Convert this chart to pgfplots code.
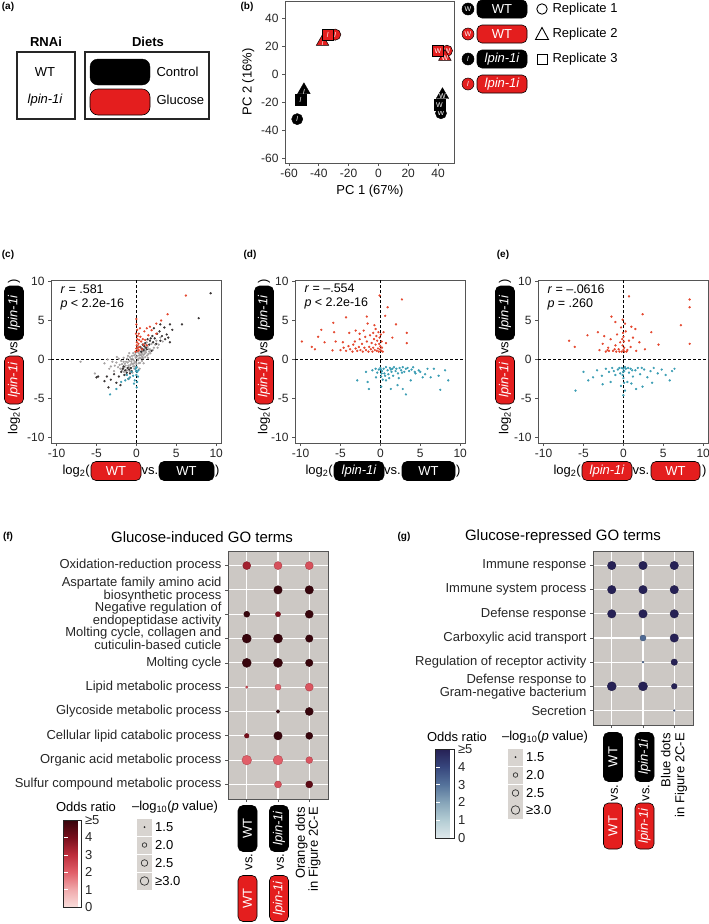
\documentclass[border=0pt]{standalone}
\usepackage{fontspec}
\setmainfont{Liberation Sans}
\usepackage{pgfplots}
\pgfplotsset{compat=1.18}
\usetikzlibrary{shapes.geometric}

\definecolor{pillred}{HTML}{E41E1E}
\definecolor{ptred}{HTML}{E4472E}
\definecolor{ptblue}{HTML}{3B9DB3}
\definecolor{ptgray}{HTML}{A09C9C}
\definecolor{ptdark}{HTML}{3A3535}
\definecolor{panelbg}{HTML}{CCC8C4}
\definecolor{frame}{HTML}{555555}
\definecolor{legsq}{HTML}{D8D4D0}

\newcommand{\fs}[1]{\fontsize{#1}{#1}\selectfont}

\pgfplotsset{
  colormap={goblues}{rgb255=(222,232,235) rgb255=(180,205,212) rgb255=(135,165,185) rgb255=(85,115,155) rgb255=(55,70,125) rgb255=(38,33,85)},
  colormap={goreds}{rgb255=(250,222,220) rgb255=(240,170,172) rgb255=(225,95,105) rgb255=(190,45,60) rgb255=(120,15,28) rgb255=(55,5,12)},
  /pgf/number format/assume math mode=true,
  gg/.style={scale only axis, tick align=outside, major tick length=3pt, xtick pos=bottom, ytick pos=left,
    axis line style={draw=frame, line width=1pt}, tick style={draw=frame, line width=0.7pt},
    tick label style={font=\fs{12}, text=black!85}, label style={font=\fs{13}}, clip=false},
  sc/.style={gg, width=170pt, height=163pt, xmin=-10.7, xmax=10.6, ymin=-10.74, ymax=10.2,
    xtick={-10,-5,0,5,10}, ytick={-10,-5,0,5,10}},
  go/.style={gg, width=100pt, xmin=0.4, xmax=3.6, xtick={1,2,3}, xticklabels={}, y dir=reverse,
    axis background/.style={fill=panelbg}, grid=major, major grid style={draw=white, line width=1.1pt},
    yticklabel style={align=right, font=\fontsize{13}{11.5}\selectfont, text=black!85},
    point meta min=0, point meta max=5},
  dots/.style={scatter, only marks, mark=*, point meta=explicit,
    visualization depends on={\thisrow{s}\as\msize},
    scatter/@pre marker code/.append style={/tikz/mark size=\msize}},
  cb/.style={scale only axis, width=10pt, height=10pt, hide axis, point meta min=0, point meta max=5, colorbar,
    colorbar style={at={(parent axis.south west)}, anchor=south west, ytick={0,1,2,3,4,5},
      yticklabels={0,1,2,3,4,≥5}, ytick style={draw=white, line width=0.6pt}, major tick length=4pt,
      tick align=inside, yticklabel pos=right, axis line style={draw=black!85, line width=0.9pt},
      yticklabel style={font=\fs{13}, text=black!85}}},
  pcapt/.style={only marks, mark size=5.6pt, nodes near coords align={center},
    every node near coord/.style={text=white, font=\fs{7}}},
  pcatri/.style={pcapt, mark=triangle*, mark size=7.2pt,
    every node near coord/.style={text=white, font=\fs{7}, yshift=-1.5pt}},
  rp/.style={only marks, mark=*, mark size=0.95pt, ptred},
  bp/.style={only marks, mark=*, mark size=0.95pt, ptblue},
  zl/.style={black, line width=0.6pt, dash pattern=on 3pt off 2pt},
}

\tikzset{
  pill/.style={draw=black, line width=0.6pt, rounded corners=5pt, text=white, inner sep=0pt, font=\fs{13}},
  vpill/.style={pill, rotate=90, minimum width=46pt, minimum height=19pt},
}

\begin{document}
\begin{tikzpicture}
\useasboundingbox (0pt,0pt) rectangle (709pt,-924pt);

% ---------------- panel a
\node[font=\bfseries\fs{10}] at (8pt,-7pt) {(a)};
\node[font=\bfseries\fs{13}] at (46pt,-42pt) {RNAi};
\draw[line width=1.2pt, draw=black!85] (17pt,-52pt) rectangle (75pt,-119pt);
\node[font=\fs{13}] at (45pt,-72pt) {WT};
\node[font=\itshape\fs{13}] at (45pt,-100pt) {lpin-1i};
\node[font=\bfseries\fs{13}] at (148pt,-42pt) {Diets};
\draw[line width=1.2pt, draw=black!85] (85pt,-52pt) rectangle (209pt,-119pt);
\draw[fill=black, draw=black, rounded corners=8pt] (90pt,-59pt) rectangle (150pt,-85pt);
\draw[fill=pillred, draw=black, line width=0.6pt, rounded corners=8pt] (90pt,-89pt) rectangle (150pt,-115pt);
\node[anchor=west, font=\fs{13}] at (153pt,-72pt) {Control};
\node[anchor=west, font=\fs{13}] at (153pt,-100pt) {Glucose};

% ---------------- panel b
\node[font=\bfseries\fs{10}] at (247pt,-7pt) {(b)};
\begin{axis}[gg, at={(285pt,-1pt)}, anchor=north west, width=170pt, height=162pt,
  xmin=-62.7, xmax=51.4, ymin=-63.3, ymax=52.3,
  xtick={-60,-40,-20,0,20,40}, ytick={-60,-40,-20,0,20,40},
  xlabel={PC 1 (67\%)}, ylabel={PC 2 (16\%)}]
\addplot[pcapt, mark=*, mark options={fill=black, draw=black}, nodes near coords={W}] coordinates {(42,-27.8)};
\addplot[pcapt, mark=square*, mark options={fill=black, draw=black}, nodes near coords={W}] coordinates {(41,-21.8)};
\addplot[pcatri, mark options={fill=black, draw=black}, nodes near coords={W}] coordinates {(43,-14.7)};
\addplot[pcapt, mark=*, mark options={fill=pillred, draw=black, line width=0.5pt}, nodes near coords={W}] coordinates {(46,16.8)};
\addplot[pcatri, mark options={fill=pillred, draw=black, line width=0.5pt}, nodes near coords={W}] coordinates {(44.6,12.5)};
\addplot[pcapt, mark=square*, mark options={fill=pillred, draw=black, line width=0.5pt}, nodes near coords={W}] coordinates {(40,16.8)};
\addplot[pcapt, mark=*, mark options={fill=black, draw=black}, nodes near coords={\itshape l}] coordinates {(-54.5,-32)};
\addplot[pcapt, mark=square*, mark options={fill=black, draw=black}, nodes near coords={\itshape l}] coordinates {(-52.3,-18.3)};
\addplot[pcatri, mark options={fill=black, draw=black}, nodes near coords={\itshape l}] coordinates {(-50,-11.2)};
\addplot[pcatri, mark options={fill=pillred, draw=black, line width=0.5pt}, nodes near coords={\itshape l}] coordinates {(-37.5,23.2)};
\addplot[pcapt, mark=*, mark options={fill=pillred, draw=black, line width=0.5pt}, nodes near coords={\itshape l}] coordinates {(-29,28.3)};
\addplot[pcapt, mark=square*, mark options={fill=pillred, draw=black, line width=0.5pt}, nodes near coords={\itshape l}] coordinates {(-34,28)};
\end{axis}
\foreach \yy/\fc/\lt/\pt in {9/black/W/WT, 34/pillred/W/WT, 59/black/\itshape l/\itshape lpin-1i, 84/pillred/\itshape l/\itshape lpin-1i}{
  \node[circle, fill=\fc, draw=black, line width=0.5pt, minimum size=12pt, inner sep=0pt, text=white, font=\fs{7}] at (468pt,-\yy pt) {\lt};
  \node[pill, fill=\fc, minimum width=50pt, minimum height=18pt] at (502pt,-\yy pt) {\pt};
}
\draw[line width=0.9pt] (542pt,-9pt) circle (5.2pt);
\draw[line width=0.9pt] (535.5pt,-39.5pt) -- (548.5pt,-39.5pt) -- (542pt,-27.5pt) -- cycle;
\draw[line width=0.9pt] (537pt,-54pt) rectangle (547pt,-64pt);
\node[anchor=west, font=\fs{13}] at (549pt,-9pt) {Replicate 1};
\node[anchor=west, font=\fs{13}] at (549pt,-34pt) {Replicate 2};
\node[anchor=west, font=\fs{13}] at (549pt,-59pt) {Replicate 3};

% ---------------- panel c
\node[font=\bfseries\fs{10}] at (8pt,-255pt) {(c)};
\begin{axis}[sc, at={(51pt,-280pt)}, anchor=north west]
\addplot[only marks, mark=*, mark size=0.95pt, ptgray, opacity=0.85] coordinates {
(-2.0,-1.2) (-1.8,-0.6) (-1.5,-1.0) (-1.3,-0.3) (-1.2,-1.4) (-1.0,-0.8) (-0.9,-0.2) (-0.8,0.3)
(-0.7,-1.1) (-0.6,-0.5) (-0.5,0.1) (-0.4,-0.9) (-0.3,0.5) (-0.2,-0.3) (-0.1,0.2) (0.0,-0.6)
(0.1,0.4) (0.2,-0.1) (0.3,0.8) (0.4,0.2) (0.5,1.0) (0.6,0.5) (0.7,-0.2) (0.8,1.1) (0.9,0.6)
(1.0,1.4) (1.1,0.3) (1.2,0.9) (1.4,1.6) (1.5,0.7) (1.7,1.3) (1.9,2.0) (-2.5,-0.4) (-2.8,-1.5)
(-3.2,-0.9) (-3.6,0.0) (-4.0,-0.5) (-7.0,-0.3) (-5.2,-1.8) (-1.6,0.2) (-0.5,-1.7) (0.4,-1.2)
(2.2,1.5) (2.5,2.4) (1.3,2.2) (-0.9,0.8) (0.9,-0.5) (-2.2,0.1) (0.15,1.3) (-0.25,-1.2)
(2.8,1.9) (3.0,2.8) (-1.1,-0.4) (-0.35,-0.1) (0.25,0.05) (0.65,0.9) (1.05,0.75) (-0.75,-0.7)
(-1.45,-0.55) (-0.15,0.65) (0.45,-0.45) (1.6,1.0) (-2.3,-1.0) (0.05,0.95) (-0.55,0.45)
(-1.9,-0.2) (-1.7,-1.1) (-1.35,-0.8) (-1.15,0.1) (-0.95,-1.0) (-0.65,-0.25) (-0.45,-0.6)
(-0.05,-0.35) (0.35,0.5) (0.55,0.15) (0.75,0.35) (0.95,1.0) (1.15,1.1) (1.35,0.5) (1.55,1.3)
(1.75,0.8) (2.05,1.2) (2.35,1.9) (2.65,1.5) (-2.7,-0.8) (-3.0,-0.3) (-2.1,-0.7) (-1.55,-1.6)
(-0.85,-1.5) (-0.2,-0.9) (0.3,-0.5) (0.85,0.15) (1.25,1.9) (0.6,1.4) (-0.1,0.9) (-3.4,-1.2)
(-2.45,0.3) (3.3,2.3) (-1.05,0.45) (0.1,-1.0) (-0.4,0.8) (0.2,1.7) (-1.25,-1.9)
(-1.6,-0.3) (-0.3,-0.5) (0.45,0.65) (1.45,0.2) (-0.7,0.05) (0.0,0.35) (0.7,0.7) (-1.8,-1.4)};
\addplot[only marks, mark=*, mark size=0.95pt, ptdark] coordinates {
(-4.8,-2.2) (-4.0,-2.8) (-3.7,-2.2) (-3.2,-2.6) (-2.8,-1.9) (-2.5,-3.0) (-2.2,-2.2) (-1.9,-1.6)
(-1.5,-2.0) (-1.2,-1.7) (-0.9,-1.3) (-0.6,-1.5) (0.5,1.6) (0.8,1.9) (1.1,2.1) (1.4,2.6)
(1.7,2.4) (2.0,3.0) (2.3,2.7) (2.6,3.3) (2.9,3.6) (3.2,3.0) (3.5,4.1) (3.8,3.2) (4.2,4.5)
(4.5,3.8) (5.7,4.5) (7.8,5.3) (9.3,8.5) (3.0,4.5) (2.2,4.0) (-3.5,-3.6) (-2.0,-3.3) (1.9,1.1)
(4.2,2.2) (4.0,2.8) (-1.0,-2.5) (1.2,1.5) (0.9,1.2) (-1.7,-1.2) (2.5,2.0) (0.6,1.0) (0.7,1.4)
(1.0,1.7) (1.3,1.3) (1.6,1.9) (1.8,2.7) (2.1,2.2) (-0.7,-1.1) (-1.1,-1.1) (-1.4,-1.4)
(-1.6,-0.9) (-0.8,-1.8) (-5.0,-2.3) (3.6,2.6) (3.0,2.4)};
\addplot[rp] coordinates {
(0.0,4.5) (0.1,3.8) (0.5,2.9) (0.25,2.0) (0.0,1.4) (0.2,1.1) (0.4,1.6) (0.6,2.3) (0.1,2.6)
(0.3,3.3) (0.8,2.6) (1.1,2.5) (1.5,3.1) (1.9,3.75) (1.7,4.2) (2.5,4.6) (2.5,3.3) (3.1,5.0)
(3.9,5.8) (6.2,8.2) (0.7,1.3) (0.9,1.9) (1.3,1.8) (0.05,1.8) (0.15,3.0) (0.45,4.0) (1.0,3.6)
(1.3,4.0) (0.0,5.2) (-0.1,1.0) (0.3,1.2) (0.05,2.2) (0.2,1.5) (-0.05,3.3) (0.35,2.5)};
\addplot[bp] coordinates {
(0.0,-1.0) (0.1,-1.6) (-0.4,-2.1) (-0.8,-2.3) (-1.4,-2.7) (-1.9,-2.9) (-2.5,-3.8) (-3.3,-4.5)
(-0.2,-2.7) (0.05,-3.6) (0.25,-1.4) (-0.6,-1.6) (-1.0,-2.5) (-0.1,-1.2) (0.2,-2.2) (-0.3,-3.1)
(-1.2,-2.0) (0.0,-2.0) (0.1,-2.9) (-0.05,-1.5)};
\addplot[zl] coordinates {(0,-10.74) (0,10.2)};
\addplot[zl] coordinates {(-10.7,0) (10.6,0)};
\node[anchor=north west, inner sep=0pt, align=left, font=\fontsize{12.5}{14}\selectfont] at (rel axis cs:0.055,0.975) {\textit{r} = .581\\\textit{p} < 2.2e-16};
\end{axis}

% ---------------- panel d
\node[font=\bfseries\fs{10}] at (250pt,-255pt) {(d)};
\begin{axis}[sc, at={(295pt,-280pt)}, anchor=north west]
\addplot[rp] coordinates {
(-9.85,2.3) (-8.6,1.6) (-8.2,1.3) (-7.4,3.8) (-7.8,2.9) (-7.0,2.2) (-5.9,4.7) (-5.8,3.5) (-5.6,2.3)
(-6.0,1.15) (-4.7,2.2) (-4.3,5.4) (-3.9,3.4) (-3.1,3.7) (-2.6,3.3) (-2.1,3.7) (-1.7,5.5) (-1.6,4.6)
(-0.75,4.4) (-0.6,3.9) (-0.1,8.2) (0.6,5.6) (0.9,6.7) (1.95,4.5) (2.7,7.7) (3.3,3.4) (3.3,2.1)
(1.5,2.8) (0.7,2.1) (0.4,3.5)
(-5.0,1.2) (-4.6,1.5) (-4.3,1.1) (-4.0,1.7) (-3.8,1.3) (-3.5,1.0) (-3.4,1.9) (-3.1,1.4) (-2.9,1.1)
(-2.7,1.6) (-2.5,1.2) (-2.3,2.0) (-2.2,1.0) (-2.0,1.5) (-1.8,1.2) (-1.7,2.3) (-1.5,1.0) (-1.4,1.6)
(-1.2,1.3) (-1.1,2.1) (-1.0,1.0) (-0.9,1.5) (-0.8,2.6) (-0.7,1.2) (-0.6,1.9) (-0.5,3.0) (-0.45,1.1)
(-0.4,2.4) (-0.3,1.4) (-0.25,3.5) (-0.2,1.0) (-0.15,2.0) (-0.1,2.8) (-0.05,1.3) (0.0,1.7) (0.05,3.2)
(0.1,1.1) (0.15,2.3) (0.2,1.5) (0.3,1.0) (-3.2,2.3) (-2.6,2.6) (-1.9,2.9) (-1.3,3.1) (-0.9,3.4)};
\addplot[bp] coordinates {
(-2.9,-2.7) (-1.8,-1.6) (-1.6,-2.9) (-1.45,-3.8) (-0.55,-2.3) (0.1,-3.5) (0.7,-2.7) (1.3,-3.8)
(2.15,-3.3) (2.8,-3.8) (3.2,-4.5) (3.8,-2.7) (5.3,-2.3) (6.3,-2.3) (6.7,-1.2) (7.3,-2.1) (8.1,-1.4)
(8.5,-2.7) (7.5,-3.9) (5.9,-1.2) (4.8,-1.4) (4.4,-1.8)
(0.0,-1.1) (0.2,-1.5) (0.4,-1.2) (0.5,-1.8) (0.7,-1.0) (0.9,-1.4) (1.0,-1.9) (1.2,-1.1) (1.4,-1.6)
(1.5,-1.2) (1.7,-1.0) (1.9,-1.5) (2.0,-1.2) (2.2,-1.8) (2.4,-1.1) (2.6,-1.4) (2.8,-1.0) (3.0,-1.6)
(3.2,-1.2) (3.4,-1.1) (3.6,-1.5) (3.9,-1.3) (4.1,-1.0) (4.3,-1.6) (0.1,-2.2) (0.3,-2.6) (0.6,-2.1)
(1.1,-2.4) (1.6,-2.1) (2.3,-2.4) (-0.2,-1.3) (-0.4,-1.7) (-0.6,-1.2) (-1.0,-1.4) (0.05,-1.3)
(0.15,-1.8) (1.3,-1.3) (2.7,-1.7) (5.0,-1.6) (5.6,-1.9)};
\addplot[zl] coordinates {(0,-10.74) (0,10.2)};
\addplot[zl] coordinates {(-10.7,0) (10.6,0)};
\node[anchor=north west, inner sep=0pt, align=left, font=\fontsize{12.5}{14}\selectfont] at (rel axis cs:0.055,0.975) {\textit{r} = –.554\\\textit{p} < 2.2e-16};
\end{axis}

% ---------------- panel e
\node[font=\bfseries\fs{10}] at (503pt,-255pt) {(e)};
\begin{axis}[sc, at={(538pt,-280pt)}, anchor=north west]
\addplot[rp] coordinates {
(-6.8,2.4) (-6.1,1.6) (-4.5,3.1) (-3.2,3.5) (-1.5,5.5) (-1.0,4.8) (-0.1,5.1) (1.0,4.2) (2.4,5.8)
(3.5,3.5) (7.2,4.4) (8.3,2.0) (0.7,8.1) (8.3,7.7) (8.3,6.7) (-3.0,1.2) (-2.6,2.0) (-2.2,1.0)
(-1.9,1.5) (-1.6,2.6) (-1.3,1.1) (-1.0,1.8) (-0.8,3.2) (-0.6,1.3) (-0.4,2.2) (-0.2,1.0) (0.0,2.9)
(0.1,1.5) (0.3,3.6) (0.5,1.2) (0.7,2.4) (0.9,1.6) (1.2,2.8) (1.6,1.1) (2.0,2.2) (-0.3,4.1)
(0.2,4.6) (-2.4,3.0) (1.5,3.9) (4.4,1.9) (2.7,1.3) (-1.8,1.1) (-0.9,1.0) (0.4,1.0) (-0.1,1.8)
(0.0,1.2) (0.05,2.3) (-0.05,3.4) (0.15,1.0) (-0.15,2.6) (-2.0,1.2) (-1.1,1.3) (-0.5,1.0)};
\addplot[bp] coordinates {
(-6.0,-4.0) (-4.4,-2.7) (-2.7,-2.1) (2.4,-3.5) (6.1,-1.5) (5.8,-2.7) (-2.2,-1.2) (-1.8,-1.6)
(-1.4,-1.1) (-1.0,-2.0) (-0.7,-1.3) (-0.4,-1.8) (-0.2,-1.1) (0.0,-2.4) (0.1,-1.5) (0.3,-1.2)
(0.5,-2.9) (0.7,-1.7) (0.9,-1.2) (1.2,-2.2) (1.5,-1.4) (1.8,-1.1) (2.1,-1.9) (2.6,-1.3) (3.0,-2.3)
(3.4,-1.5) (3.8,-1.1) (4.3,-1.8) (4.8,-1.3) (5.3,-2.0) (6.4,-1.2) (-3.3,-1.4) (-3.8,-2.3)
(-5.0,-1.6) (-0.3,-3.4) (0.2,-4.0) (1.0,-3.1) (-1.6,-2.9) (0.0,-4.6) (1.6,-3.8) (3.6,-3.0)
(-2.6,-3.2) (-0.5,-1.1) (0.6,-1.1) (1.1,-1.4) (2.3,-1.1) (0.0,-1.2) (-0.1,-2.0) (0.1,-3.0)
(-0.05,-1.6) (0.2,-1.0) (-1.2,-1.5)};
\addplot[zl] coordinates {(0,-10.74) (0,10.2)};
\addplot[zl] coordinates {(-10.7,0) (10.6,0)};
\node[anchor=north west, inner sep=0pt, align=left, font=\fontsize{12.5}{14}\selectfont] at (rel axis cs:0.055,0.975) {\textit{r} = –.0616\\\textit{p} = .260};
\end{axis}

% axis labels of c, d, e (composite)
\foreach \xx in {14,264,505}{
  \node[rotate=90, anchor=east, inner sep=0pt, font=\fs{13}] at (\xx pt,-407pt) {log\textsubscript{2}(};
  \node[vpill, fill=pillred, minimum width=48pt, font=\itshape\fs{13}] at (\xx pt,-380pt) {lpin-1i};
  \node[rotate=90, inner sep=0pt, font=\fs{13}] at (\xx pt,-348pt) {vs};
  \node[vpill, fill=black, minimum width=54pt, font=\itshape\fs{13}] at (\xx pt,-313pt) {lpin-1i};
  \node[rotate=90, anchor=west, inner sep=0pt, font=\fs{13}] at (\xx pt,-284pt) {)};
}
\node[anchor=east, inner sep=0pt, font=\fs{13}] at (90pt,-471pt) {log\textsubscript{2}(};
\node[pill, fill=pillred, minimum width=50pt, minimum height=19pt] at (116pt,-471pt) {WT};
\node[font=\fs{13}] at (150pt,-471pt) {vs.};
\node[pill, fill=black, minimum width=55pt, minimum height=19pt] at (186.5pt,-471pt) {WT};
\node[anchor=west, inner sep=0pt, font=\fs{13}] at (215pt,-471pt) {)};

\node[anchor=east, inner sep=0pt, font=\fs{13}] at (333pt,-471pt) {log\textsubscript{2}(};
\node[pill, fill=black, minimum width=50pt, minimum height=19pt, font=\itshape\fs{13}] at (359pt,-471pt) {lpin-1i};
\node[font=\fs{13}] at (392.5pt,-471pt) {vs.};
\node[pill, fill=black, minimum width=53pt, minimum height=19pt] at (428.5pt,-471pt) {WT};
\node[anchor=west, inner sep=0pt, font=\fs{13}] at (456pt,-471pt) {)};

\node[anchor=east, inner sep=0pt, font=\fs{13}] at (581pt,-471pt) {log\textsubscript{2}(};
\node[pill, fill=pillred, minimum width=50pt, minimum height=19pt, font=\itshape\fs{13}] at (607pt,-471pt) {lpin-1i};
\node[font=\fs{13}] at (641pt,-471pt) {vs.};
\node[pill, fill=pillred, minimum width=49pt, minimum height=19pt] at (675.5pt,-471pt) {WT};
\node[anchor=west, inner sep=0pt, font=\fs{13}] at (702pt,-471pt) {)};

% ---------------- panel f
\node[font=\bfseries\fs{10}] at (8pt,-537pt) {(f)};
\node[font=\fs{15}] at (202pt,-537pt) {Glucose-induced GO terms};
\begin{axis}[go, at={(228pt,-551pt)}, anchor=north west, height=248pt, ymin=0.4, ymax=10.6,
  colormap name=goreds, ytick={1,...,10},
  yticklabels={Oxidation-reduction process, {Aspartate family amino acid\\biosynthetic process},
    {Negative regulation of\\endopeptidase activity}, {Molting cycle, collagen and\\cuticulin-based cuticle},
    Molting cycle, Lipid metabolic process, Glycoside metabolic process, Cellular lipid catabolic process,
    Organic acid metabolic process, Sulfur compound metabolic process}]
\addplot[dots] table[x=x, y=y, meta=c] {
x y s c
1 1 4.0 3.4
2 1 4.0 2.3
3 1 4.0 2.3
2 2 4.2 5
3 2 4.2 5
1 3 3.0 5
2 3 2.6 3.9
3 3 4.0 5
1 4 4.5 5
2 4 4.5 5
3 4 3.7 5
1 5 4.5 5
2 5 4.5 5
3 5 3.7 5
1 6 1.2 2.3
2 6 3.0 2.0
3 6 4.0 2.2
2 7 1.8 5
3 7 4.0 5
1 8 2.3 4.0
2 8 4.2 5
3 8 3.5 5
1 9 4.8 2.0
2 9 4.8 2.0
3 9 3.4 2.2
2 10 3.5 2.3
3 10 3.5 4.4
};
\end{axis}
\node[font=\fs{13}] at (86pt,-807pt) {Odds ratio};
\begin{axis}[cb, at={(55pt,-907pt)}, anchor=south west, colormap name=goreds,
  colorbar style={width=18pt, height=87pt}]
\addplot[draw=none] coordinates {(0,0)};
\end{axis}
\node[font=\fs{13}] at (175pt,-807pt) {–log\textsubscript{10}(\textit{p} value)};
\foreach \yy/\lab in {827/1.5, 845/2.0, 863/2.5, 881/≥3.0}{
  \fill[legsq] (137pt,-\yy pt+8.5pt) rectangle (152pt,-\yy pt-8.5pt);
  \node[anchor=west, font=\fs{13}, inner sep=0pt] at (155pt,-\yy pt) {\lab};
}
\fill[black!85] (144.5pt,-827pt) circle (1pt);
\draw[black!80, line width=0.7pt] (144.5pt,-845pt) circle (2.3pt);
\draw[black!80, line width=0.7pt] (144.5pt,-863pt) circle (3.3pt);
\draw[black!80, line width=0.7pt] (144.5pt,-881pt) circle (4.3pt);
\node[vpill, fill=black] at (247.5pt,-828.5pt) {WT};
\node[rotate=90, font=\fs{13}] at (249pt,-862pt) {vs.};
\node[vpill, fill=pillred] at (247.5pt,-898.5pt) {WT};
\node[vpill, fill=black, font=\itshape\fs{13}] at (279pt,-828.5pt) {lpin-1i};
\node[rotate=90, font=\fs{13}] at (280.5pt,-862pt) {vs.};
\node[vpill, fill=pillred, font=\itshape\fs{13}] at (279pt,-898.5pt) {lpin-1i};
\node[rotate=90, anchor=east, align=right, inner sep=0pt, font=\fontsize{13}{11}\selectfont] at (308pt,-807pt) {Orange dots\\in Figure 2C-E};

% ---------------- panel g
\node[font=\bfseries\fs{10}] at (404pt,-537pt) {(g)};
\node[font=\fs{15}] at (563pt,-537pt) {Glucose-repressed GO terms};
\begin{axis}[go, at={(593pt,-551pt)}, anchor=north west, height=174pt, ymin=0.4, ymax=7.6,
  colormap name=goblues, ytick={1,...,7},
  yticklabels={Immune response, Immune system process, Defense response, Carboxylic acid transport,
    Regulation of receptor activity, {Defense response to\\Gram-negative bacterium}, Secretion}]
\addplot[dots] table[x=x, y=y, meta=c] {
x y s c
1 1 4.2 5
2 1 4.2 5
3 1 4.2 5
1 2 4.2 5
2 2 4.2 5
3 2 4.2 5
1 3 4.2 5
2 3 4.2 5
3 3 4.2 5
2 4 3.0 3.2
3 4 4.2 5
2 5 1.0 3.2
3 5 3.2 5
1 6 4.5 5
2 6 4.5 5
3 6 2.8 5
3 7 0.9 3.5
};
\end{axis}
\node[font=\fs{13}] at (457pt,-737pt) {Odds ratio};
\begin{axis}[cb, at={(427pt,-838pt)}, anchor=south west, colormap name=goblues,
  colorbar style={width=19pt, height=89pt}]
\addplot[draw=none] coordinates {(0,0)};
\end{axis}
\node[font=\fs{13}] at (545pt,-737pt) {–log\textsubscript{10}(\textit{p} value)};
\foreach \yy/\lab in {757/1.5, 775/2.0, 793/2.5, 810/≥3.0}{
  \fill[legsq] (508pt,-\yy pt+8.5pt) rectangle (523pt,-\yy pt-8.5pt);
  \node[anchor=west, font=\fs{13}, inner sep=0pt] at (526pt,-\yy pt) {\lab};
}
\fill[black!85] (515.5pt,-757pt) circle (1pt);
\draw[black!80, line width=0.7pt] (515.5pt,-775pt) circle (2.3pt);
\draw[black!80, line width=0.7pt] (515.5pt,-793pt) circle (3.3pt);
\draw[black!80, line width=0.7pt] (515.5pt,-810pt) circle (4.3pt);
\node[vpill, fill=black, minimum width=49pt] at (613pt,-757pt) {WT};
\node[rotate=90, font=\fs{13}] at (614.5pt,-793pt) {vs.};
\node[vpill, fill=pillred] at (613pt,-826pt) {WT};
\node[vpill, fill=black, minimum width=49pt, font=\itshape\fs{13}] at (644.5pt,-757pt) {lpin-1i};
\node[rotate=90, font=\fs{13}] at (646pt,-793pt) {vs.};
\node[vpill, fill=pillred, font=\itshape\fs{13}] at (644.5pt,-826pt) {lpin-1i};
\node[rotate=90, anchor=east, align=right, inner sep=0pt, font=\fontsize{13}{14}\selectfont] at (674pt,-733pt) {Blue dots\\in Figure 2C-E};
\end{tikzpicture}
\end{document}
